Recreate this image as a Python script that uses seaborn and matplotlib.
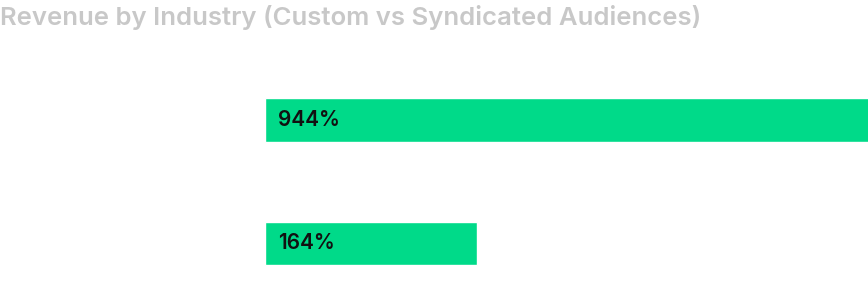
import matplotlib
matplotlib.use("Agg")
import matplotlib.pyplot as plt
import seaborn as sns
import pandas as pd

categories = ["Custom Audiences", "Syndicated Audiences"]
values = [944, 164]
labels = ["944%", "164%"]

sns.set_theme(style="white")
plt.rcParams['font.family'] = ['Inter', 'DejaVu Sans']

df = pd.DataFrame({"category": categories, "value": values})

W, H = 868, 295
fig = plt.figure(figsize=(W / 100, H / 100), dpi=100)
ax = fig.add_axes([264.5 / W, 0, 1 - 264.5 / W, (295 - 58) / H])

sns.barplot(data=df, y="category", x="value", orient="h", color="#00DA89",
            width=0.35, saturation=1, ax=ax)
ax.set_xlim(0, 466.6)
ax.set_ylim(1.417, -0.502)
for i, lab in enumerate(labels):
    ax.annotate(lab, xy=(0, i), xytext=(9.5, 0), textcoords="offset points",
                ha="left", va="center", fontsize=15, fontweight="semibold",
                color="#111111")
ax.set_xticks([])
ax.set_yticks([])
ax.set_xlabel("")
ax.set_ylabel("")
for s in ax.spines.values():
    s.set_visible(False)

fig.text(0.0, 1 - 17 / H, "Revenue by Industry (Custom vs Syndicated Audiences)",
         ha="left", va="center", fontsize=18.5, fontweight="semibold",
         color="#c8c8c8")

fig.savefig("out.png", dpi=100)
